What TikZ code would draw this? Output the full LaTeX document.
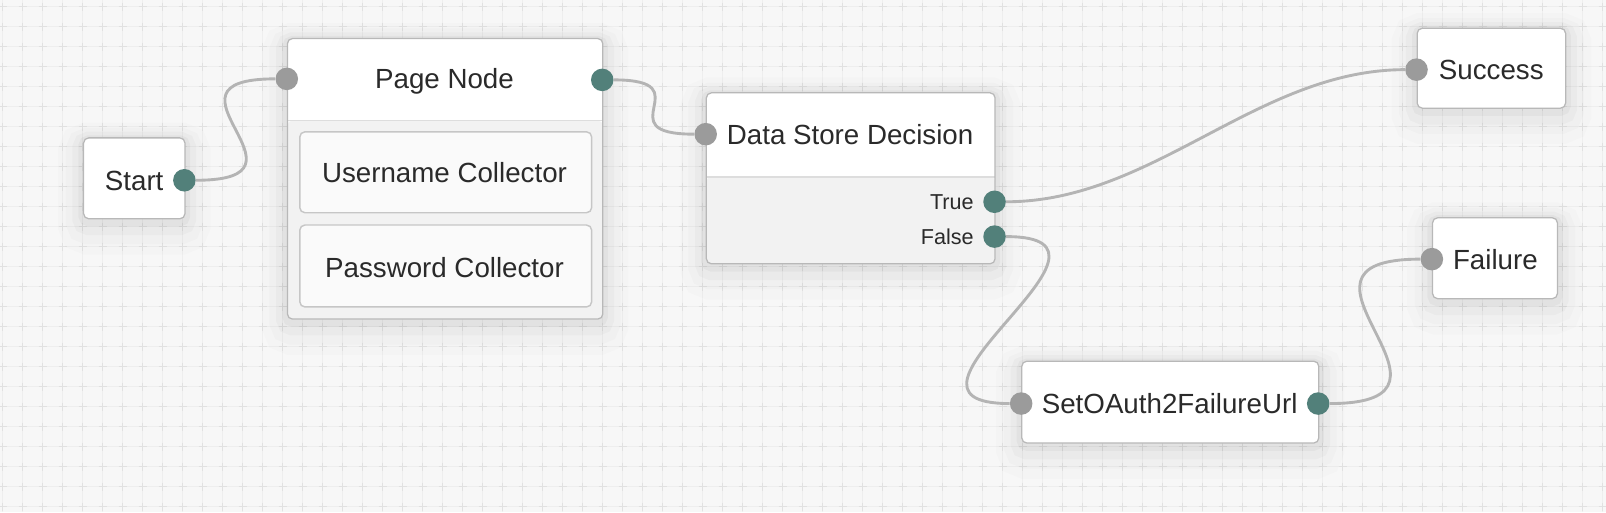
\documentclass[tikz,border=0pt]{standalone}
\usepackage{fontspec}
\setmainfont{Liberation Sans}
\definecolor{canvas}{HTML}{F7F7F7}
\definecolor{gridline}{HTML}{EEEEEE}
\definecolor{gridmark}{HTML}{E1E1E1}
\definecolor{boxline}{HTML}{B8B8B8}
\definecolor{innerline}{HTML}{C6C6C6}
\definecolor{bodyfill}{HTML}{F2F2F2}
\definecolor{divider}{HTML}{DDDDDD}
\definecolor{portteal}{HTML}{52807A}
\definecolor{portgray}{HTML}{9B9B9B}
\definecolor{wiregray}{HTML}{B4B4B4}
\definecolor{ink}{HTML}{2A2A2A}

\begin{document}
\begin{tikzpicture}[x=0.02cm,y=-0.02cm,
    split/.style={path picture={
      \fill[bodyfill] ([yshift=-#1]path picture bounding box.north west) rectangle (path picture bounding box.south east);
      \draw[divider,line width=0.8pt] ([yshift=-#1]path picture bounding box.north west) -- ([yshift=-#1]path picture bounding box.north east);}}]
      \tikzstyle card=[draw=boxline, fill=white, line width=0.7pt, rounded corners=0.1cm,
      inner sep=0pt, anchor=north west,
      preaction={draw=black, draw opacity=0.012, line width=1.0cm, transform canvas={yshift=-0.2cm}},
      preaction={draw=black, draw opacity=0.016, line width=0.7cm, transform canvas={yshift=-0.15cm}},
      preaction={draw=black, draw opacity=0.022, line width=0.44cm, transform canvas={yshift=-0.1cm}},
      preaction={draw=black, draw opacity=0.03, line width=0.2cm, transform canvas={yshift=-0.05cm}}]
      \tikzstyle slot=[draw=innerline, fill=white!60!bodyfill, line width=0.8pt, rounded corners=0.1cm,
      inner sep=0pt, anchor=north west]
      \tikzstyle inport=[circle, fill=portgray, minimum size=0.44cm, inner sep=0pt]
      \tikzstyle outport=[circle, fill=portteal, minimum size=0.44cm, inner sep=0pt]
      \tikzstyle wire=[wiregray, line width=1.6pt]
      \tikzstyle txt=[font=\fontsize{15.4}{18}\selectfont, text=ink, inner sep=0pt, text height=11pt, text depth=0pt]
      \tikzstyle small=[font=\fontsize{12}{14}\selectfont, text=ink, inner sep=0pt, text height=8.6pt, text depth=0pt]
      \useasboundingbox (0,0) rectangle (1568,500);
      \fill [canvas] (0,0) rectangle (1568,500);
      \clip (0,0) rectangle (1568,500);
      \foreach \i in {0,...,80}
        \draw [gridline, line width=0.6pt] (2.6+19.53*\i,0) -- (2.6+19.53*\i,500);
      \foreach \j in {0,...,25}
        \draw [gridline, line width=0.6pt] (0,6.5+19.53*\j) -- (1568,6.5+19.53*\j);
      \foreach \i in {0,...,80}
        \draw [gridmark, line width=0.6pt, dash pattern=on 0.16cm off 0.2306cm] (2.6+19.53*\i,-17.03) -- (2.6+19.53*\i,520);
      \foreach \j in {0,...,25}
        \draw [gridmark, line width=0.6pt, dash pattern=on 0.16cm off 0.2306cm] (-20.93,6.5+19.53*\j) -- (1590,6.5+19.53*\j);
      \node [card, minimum width=1.98cm, minimum height=1.58cm] (start) at (81,134) {};
      \node [card, split=1.6cm, minimum width=6.16cm, minimum height=5.48cm] (page) at (280,37) {};
      \node [slot, minimum width=5.7cm, minimum height=1.58cm] (user) at (292,128) {};
      \node [slot, minimum width=5.7cm, minimum height=1.6cm] (pass) at (292,219) {};
      \node [card, split=1.64cm, minimum width=5.64cm, minimum height=3.34cm] (store) at (689,90) {};
      \node [card, minimum width=2.9cm, minimum height=1.56cm] (success) at (1383,27) {};
      \node [card, minimum width=2.44cm, minimum height=1.58cm] (failure) at (1398,212) {};
      \node [card, minimum width=5.8cm, minimum height=1.6cm] (seturl) at (997,352) {};
      \node [txt] (startlbl) at (131,176) {Start};
      \node [txt] (pagelbl) at (434,77) {Page Node};
      \node [txt] (userlbl) at (434,169) {Username Collector};
      \node [txt] (passlbl) at (434,261) {Password Collector};
      \node [txt] (storelbl) at (830,131) {Data Store Decision};
      \node [small, anchor=east] (truelbl) at (951,197) {True};
      \node [small, anchor=east] (falselbl) at (951,231) {False};
      \node [txt] (successlbl) at (1456,68) {Success};
      \node [txt] (failurelbl) at (1460,253) {Failure};
      \node [txt] (seturllbl) at (1142,394) {SetOAuth2FailureUrl};
      \node [outport] (startout) at (180,176) {};
      \node [inport] (pagein) at (280,77) {};
      \node [outport] (pageout) at (588,78) {};
      \node [inport] (storein) at (689,131) {};
      \node [outport] (storetrue) at (971,197) {};
      \node [outport] (storefalse) at (971,231) {};
      \node [inport] (successin) at (1383,68) {};
      \node [inport] (failurein) at (1398,253) {};
      \node [inport] (seturlin) at (997,394) {};
      \node [outport] (seturlout) at (1287,394) {};
      \draw [wire] (startout) .. controls +(140,0) and +(-140,0) .. (pagein);
      \draw [wire] (pageout) .. controls +(100,0) and +(-100,0) .. (storein);
      \draw [wire] (storetrue) .. controls +(155,0) and +(-155,0) .. (successin);
      \draw [wire] (storefalse) .. controls +(155,0) and +(-155,0) .. (seturlin);
      \draw [wire] (seturlout) .. controls +(170,0) and +(-170,0) .. (failurein);
    \end{tikzpicture}
\end{document}
